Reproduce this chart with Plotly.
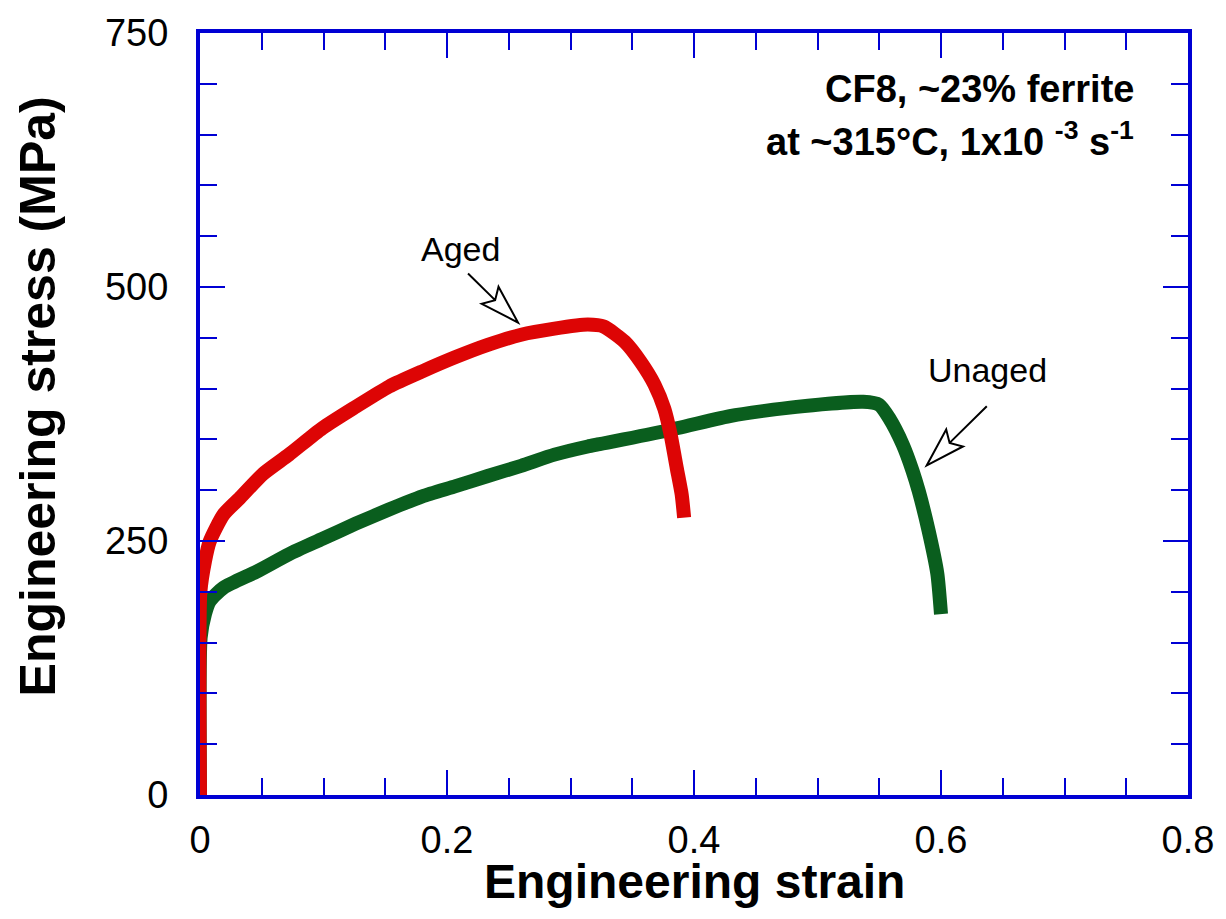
import math
import plotly.graph_objects as go

# Engineering stress-strain data for CF8 cast stainless steel (~23% ferrite)
aged_strain = [0.0, 0.0003, 0.004, 0.008, 0.019, 0.032, 0.051, 0.072, 0.099, 0.126,
               0.153, 0.180, 0.207, 0.233, 0.260, 0.287, 0.314, 0.327, 0.344, 0.357,
               0.368, 0.376, 0.381, 0.386, 0.390, 0.392]
aged_stress = [0, 200, 230, 250, 276, 292, 316, 335, 361, 382,
               402, 417, 431, 443, 453, 459, 463, 461, 446, 426,
               404, 380, 355, 322, 296, 273]

unaged_strain = [0.0, 0.0005, 0.004, 0.008, 0.019, 0.046, 0.072, 0.099, 0.126, 0.153,
                 0.180, 0.207, 0.233, 0.260, 0.287, 0.314, 0.322, 0.376, 0.429, 0.483,
                 0.537, 0.550, 0.558, 0.569, 0.577, 0.582, 0.590, 0.597, 0.600]
unaged_stress = [0, 155, 178, 191, 204, 220, 237, 252, 267, 281,
                 294, 304, 314, 324, 335, 343, 345, 358, 373, 382,
                 387, 384, 371, 345, 319, 299, 260, 218, 178]

x_ticks = [0, 0.2, 0.4, 0.6, 0.8]
x_tick_text = ["0", "0.2", "0.4", "0.6", "0.8"]
y_ticks = [0, 250, 500, 750]
y_tick_text = ["0", "250", "500", "750"]

BLUE = "#0000d4"
RED = "#dd0505"
GREEN = "#0a5e1e"
FONT = "Liberation Sans, Arial, sans-serif"

fig = go.Figure()
fig.add_trace(go.Scatter(x=unaged_strain, y=unaged_stress, mode="lines",
                         line=dict(color=GREEN, width=14, shape="spline", smoothing=0.6),
                         name="Unaged"))
fig.add_trace(go.Scatter(x=aged_strain, y=aged_stress, mode="lines",
                         line=dict(color=RED, width=14, shape="spline", smoothing=0.6),
                         name="Aged"))


def hollow_arrow(tip_x, tip_y, dx, dy, head_len=39, half_w=12, notch=32):
    """Arrow with an open, notched head; dx/dy give the tail offset in pixels (y up)."""
    length = math.hypot(dx, dy)
    ux, uy = dx / length, dy / length
    nx, ny = -uy, ux
    bx1, by1 = head_len * ux + half_w * nx, head_len * uy + half_w * ny
    bx2, by2 = head_len * ux - half_w * nx, head_len * uy - half_w * ny
    mx, my = notch * ux, notch * uy
    path = (f"M{dx:.1f},{dy:.1f} L{mx:.1f},{my:.1f} "
            f"M0,0 L{bx1:.1f},{by1:.1f} L{mx:.1f},{my:.1f} L{bx2:.1f},{by2:.1f} Z")
    return dict(type="path", xref="x", yref="y", xsizemode="pixel", ysizemode="pixel",
                xanchor=tip_x, yanchor=tip_y, path=path,
                line=dict(color="black", width=2), fillcolor="white", layer="above")


shapes = [
    hollow_arrow(0.2575, 465, -50, 49),
    hollow_arrow(0.5885, 324.5, 60, 59),
]

annotations = [
    dict(x=0.211, y=537, text="Aged", showarrow=False,
         font=dict(family=FONT, size=34, color="black"), xanchor="center", yanchor="middle"),
    dict(x=0.638, y=418, text="Unaged", showarrow=False,
         font=dict(family=FONT, size=34, color="black"), xanchor="center", yanchor="middle"),
    dict(x=0.758, y=695, text="<b>CF8, ~23% ferrite</b>", showarrow=False,
         font=dict(family=FONT, size=38, color="black"), xanchor="right", yanchor="middle"),
    dict(x=0.758, y=646, text="<b>at ~315°C, 1x10 <sup>-3</sup> s<sup>-1</sup></b>", showarrow=False,
         font=dict(family=FONT, size=38, color="black"), xanchor="right", yanchor="middle"),
    # axis titles
    dict(xref="paper", yref="paper", x=-0.163, y=0.523, textangle=-90,
         text="<b>Engineering stress (MPa)</b>", showarrow=False,
         font=dict(family=FONT, size=50, color="black"), xanchor="center", yanchor="middle"),
    dict(xref="paper", yref="paper", x=0.5, y=-0.114,
         text="<b>Engineering strain</b>", showarrow=False,
         font=dict(family=FONT, size=48, color="black"), xanchor="center", yanchor="middle"),
]

axis_common = dict(
    showline=True, linecolor=BLUE, linewidth=4, mirror="allticks",
    ticks="inside", ticklen=25, tickwidth=2, tickcolor=BLUE,
    showgrid=False, zeroline=False,
    tickfont=dict(family=FONT, size=38, color="black"),
)

fig.update_layout(
    width=1226, height=919,
    margin=dict(l=200, r=31, t=30, b=124),
    paper_bgcolor="white", plot_bgcolor="white",
    showlegend=False,
    shapes=shapes, annotations=annotations,
    xaxis=dict(range=[0, 0.8], tickvals=x_ticks, ticktext=x_tick_text,
               minor=dict(dtick=0.05, ticks="inside", ticklen=17, tickwidth=2, tickcolor=BLUE),
               ticklabelstandoff=8, **axis_common),
    yaxis=dict(range=[0, 750], tickvals=y_ticks, ticktext=y_tick_text,
               minor=dict(dtick=50, ticks="inside", ticklen=17, tickwidth=2, tickcolor=BLUE),
               ticklabelstandoff=20, **axis_common),
)

fig.write_html("out.html")
